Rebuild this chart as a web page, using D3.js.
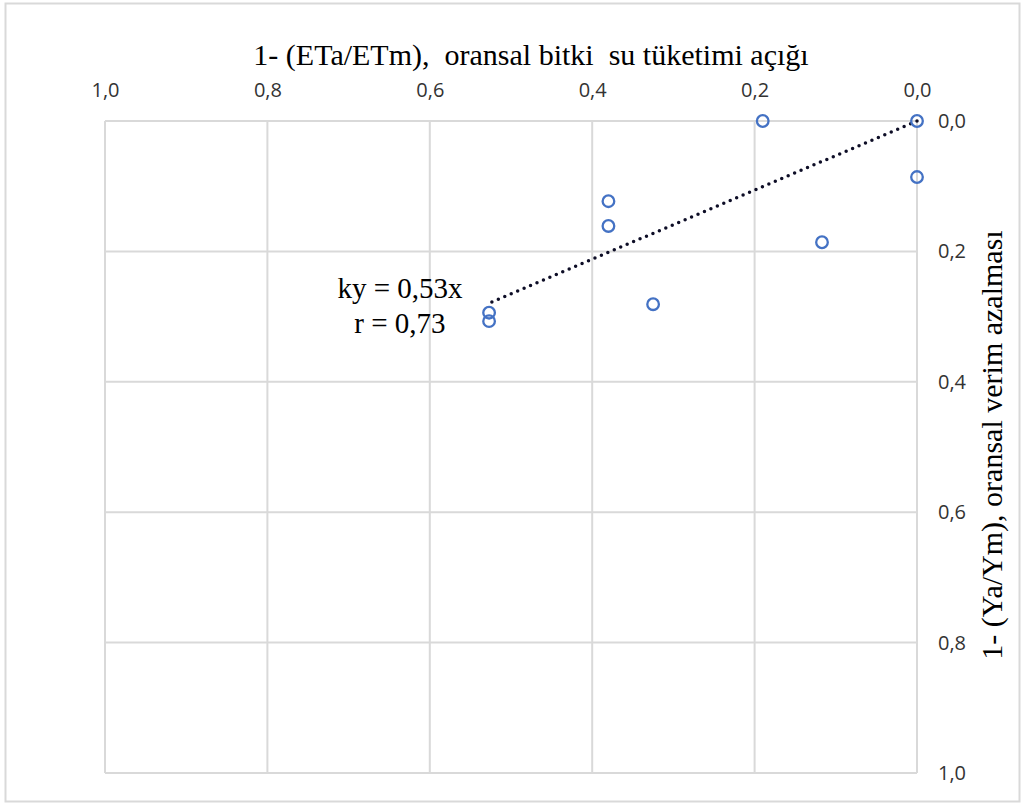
<!DOCTYPE html>
<html>
<head>
<meta charset="utf-8">
<script src="https://cdn.jsdelivr.net/npm/d3@7"></script>
<style>
  body { margin: 0; background: #fff; }
  svg { display: block; }
</style>
</head>
<body>
<div id="grafico"></div>
<script>
// Datos: x = 1-(ETa/ETm), y = 1-(Ya/Ym)
const xValues = [0.19, 0.0, 0.0, 0.38, 0.38, 0.117, 0.325, 0.527, 0.527];
const yValues = [0.0, 0.0, 0.086, 0.123, 0.161, 0.186, 0.281, 0.294, 0.307];
const tickValues = [0, 0.2, 0.4, 0.6, 0.8, 1.0];
const slope = 0.53;
const trendX = [0, 0.527];
const annotation = ["ky = 0,53x", "r = 0,73"];

const svgWidth = 1023, svgHeight = 805;
const margin = { top: 121, right: 106, bottom: 32, left: 105 };
const width = svgWidth - margin.left - margin.right;
const height = svgHeight - margin.top - margin.bottom;

const tickFont = "'Open Sans', 'Liberation Sans', sans-serif";
const serifFont = "'Liberation Serif', 'Times New Roman', serif";

const root = d3.select("#grafico")
    .append("svg")
    .attr("width", svgWidth)
    .attr("height", svgHeight);

// Marco exterior
root.append("rect")
    .attr("x", 5.5).attr("y", 3.5)
    .attr("width", 1014).attr("height", 798)
    .attr("fill", "#fff")
    .attr("stroke", "#d9d9d9")
    .attr("stroke-width", 2);

const svg = root.append("g")
    .attr("transform", `translate(${margin.left}, ${margin.top})`);

// Escalas (eje x invertido, eje y hacia abajo)
const x = d3.scaleLinear().domain([1, 0]).range([0, width]);
const y = d3.scaleLinear().domain([0, 1]).range([0, height]);

const fmt = d => d3.format(".1f")(d).replace(".", ",");

// Cuadricula
svg.append("g")
    .selectAll("line")
    .data(tickValues)
    .join("line")
    .attr("x1", d => x(d)).attr("x2", d => x(d))
    .attr("y1", 0).attr("y2", height)
    .attr("stroke", "#d9d9d9").attr("stroke-width", 2);

svg.append("g")
    .selectAll("line")
    .data(tickValues)
    .join("line")
    .attr("x1", 0).attr("x2", width)
    .attr("y1", d => y(d)).attr("y2", d => y(d))
    .attr("stroke", "#d9d9d9").attr("stroke-width", 2);

// Ejes
const axisTop = svg.append("g")
    .call(d3.axisTop(x).tickValues(tickValues).tickFormat(fmt).tickSize(0).tickPadding(24));
axisTop.select(".domain").remove();
axisTop.selectAll("text")
    .attr("font-family", tickFont)
    .attr("font-size", 20).attr("fill", "#333");

const axisRight = svg.append("g")
    .attr("transform", `translate(${width}, 0)`)
    .call(d3.axisRight(y).tickValues(tickValues).tickFormat(fmt).tickSize(0).tickPadding(21));
axisRight.select(".domain").remove();
axisRight.selectAll("text")
    .attr("font-family", tickFont)
    .attr("font-size", 20).attr("fill", "#333");

// Titulos
root.append("text")
    .attr("x", 531).attr("y", 65)
    .attr("text-anchor", "middle")
    .attr("font-family", serifFont)
    .attr("font-size", 30).attr("fill", "#000")
    .attr("xml:space", "preserve")
    .text("1- (ETa/ETm),  oransal bitki  su tüketimi açığı");

root.append("text")
    .attr("transform", "translate(1002, 445) rotate(-90)")
    .attr("text-anchor", "middle")
    .attr("font-family", serifFont)
    .attr("font-size", 30).attr("fill", "#000")
    .text("1- (Ya/Ym), oransal verim azalması");

// Linea de tendencia
svg.append("line")
    .attr("x1", x(trendX[0])).attr("y1", y(slope * trendX[0]))
    .attr("x2", x(trendX[1])).attr("y2", y(slope * trendX[1]))
    .attr("stroke", "#0d0d26")
    .attr("stroke-width", 3.5)
    .attr("stroke-linecap", "round")
    .attr("stroke-dasharray", "0 7");

// Puntos
svg.append("g")
    .selectAll("circle")
    .data(xValues.map((v, i) => ({ x: v, y: yValues[i] })))
    .join("circle")
    .attr("cx", d => x(d.x))
    .attr("cy", d => y(d.y))
    .attr("r", 5.8)
    .attr("fill", "none")
    .attr("stroke", "#4472c4")
    .attr("stroke-width", 2.3);

// Ecuacion
const ann = root.append("text")
    .attr("text-anchor", "middle")
    .attr("font-family", serifFont)
    .attr("font-size", 29).attr("fill", "#000");
ann.append("tspan").attr("x", 400).attr("y", 298).text(annotation[0]);
ann.append("tspan").attr("x", 400).attr("y", 333).text(annotation[1]);
</script>
</body>
</html>
